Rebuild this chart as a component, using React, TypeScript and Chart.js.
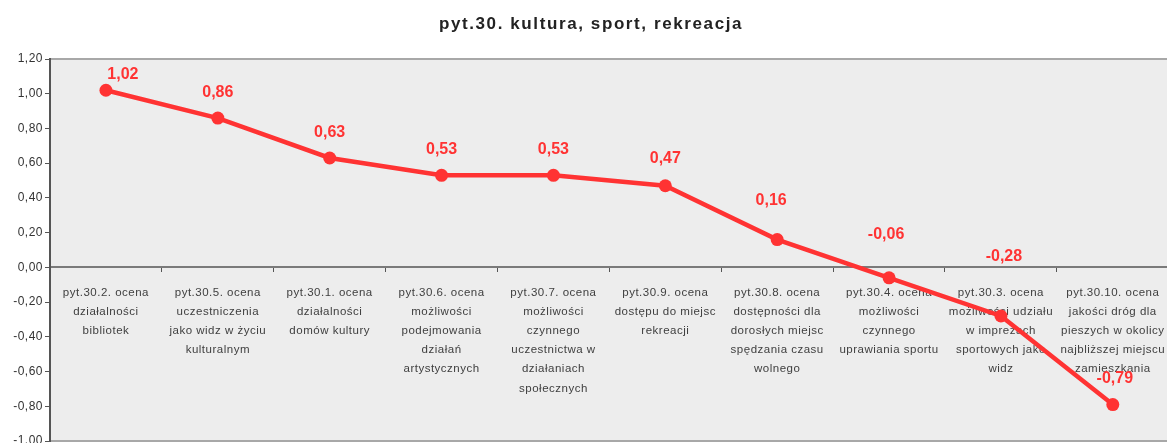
import React, { useEffect, useRef } from "react";
import { Chart, registerables } from "chart.js";

Chart.register(...registerables);

const TITLE = "pyt.30. kultura, sport, rekreacja";

const categories: string[][] = [
  ["pyt.30.2. ocena", "działalności", "bibliotek"],
  ["pyt.30.5. ocena", "uczestniczenia", "jako widz w życiu", "kulturalnym"],
  ["pyt.30.1. ocena", "działalności", "domów kultury"],
  ["pyt.30.6. ocena", "możliwości", "podejmowania", "działań", "artystycznych"],
  ["pyt.30.7. ocena", "możliwości", "czynnego", "uczestnictwa w", "działaniach", "społecznych"],
  ["pyt.30.9. ocena", "dostępu do miejsc", "rekreacji"],
  ["pyt.30.8. ocena", "dostępności dla", "dorosłych miejsc", "spędzania czasu", "wolnego"],
  ["pyt.30.4. ocena", "możliwości", "czynnego", "uprawiania sportu"],
  ["pyt.30.3. ocena", "możliwości udziału", "w imprezach", "sportowych jako", "widz"],
  ["pyt.30.10. ocena", "jakości dróg dla", "pieszych w okolicy", "najbliższej miejscu", "zamieszkania"],
];

const values: number[] = [1.02, 0.86, 0.63, 0.53, 0.53, 0.47, 0.16, -0.06, -0.28, -0.79];

const yMin = -1.0;
const yMax = 1.2;
const yStep = 0.2;

// label placement (style only): pixel offsets of each value label from its point
const LABEL_DX = [17, 0, 0, 0, 0, 0, -6, -3, 3, 2];
const LABEL_DY = [-16, -25, -25, -26, -26, -27, -39, -43, -59, -26];

const RED = "#FF3333";
const FONT = "'Liberation Sans', Arial, sans-serif";
const AXIS_SPACING = "0.5px";

const fmt = (v: number) => v.toFixed(2).replace(".", ",");

const decorPlugin = {
  id: "decor",
  beforeUpdate(chart: any) {
    chart.ctx.letterSpacing = AXIS_SPACING;
  },
  beforeDraw(chart: any) {
    const { ctx, chartArea: a } = chart;
    ctx.letterSpacing = AXIS_SPACING;
    ctx.save();
    ctx.fillStyle = "#EDEDED";
    ctx.fillRect(a.left, a.top, a.right - a.left, a.bottom - a.top);
    ctx.strokeStyle = "#A8A8A8";
    ctx.lineWidth = 2;
    ctx.beginPath();
    ctx.moveTo(a.left, a.top);
    ctx.lineTo(a.right, a.top);
    ctx.moveTo(a.left, a.bottom);
    ctx.lineTo(a.right, a.bottom);
    ctx.stroke();
    ctx.fillStyle = "#222";
    ctx.font = `bold 17px ${FONT}`;
    ctx.letterSpacing = "1.6px";
    ctx.textAlign = "center";
    ctx.textBaseline = "alphabetic";
    ctx.fillText(TITLE, 591, 29);
    ctx.restore();
  },
  afterDatasetsDraw(chart: any) {
    const { ctx } = chart;
    const meta = chart.getDatasetMeta(0);
    ctx.save();
    ctx.letterSpacing = "0px";
    ctx.fillStyle = RED;
    ctx.font = `bold 16px ${FONT}`;
    ctx.textAlign = "center";
    ctx.textBaseline = "middle";
    meta.data.forEach((pt: any, i: number) => {
      ctx.fillText(fmt(values[i]), pt.x + LABEL_DX[i], pt.y + LABEL_DY[i]);
    });
    ctx.restore();
  },
};

export default function App() {
  const ref = useRef<HTMLCanvasElement | null>(null);

  useEffect(() => {
    document.body.style.margin = "0";
    if (!ref.current) return;
    const chart = new Chart(ref.current, {
      type: "line",
      data: {
        labels: categories,
        datasets: [
          {
            data: values,
            borderColor: RED,
            backgroundColor: RED,
            borderWidth: 4.5,
            pointRadius: 6.5,
            pointHoverRadius: 6.5,
            pointBackgroundColor: RED,
            pointBorderWidth: 0,
            tension: 0,
          },
        ],
      },
      options: {
        animation: false,
        responsive: true,
        maintainAspectRatio: false,
        layout: { padding: { top: 59, bottom: 11, left: 0, right: 0 } },
        plugins: {
          legend: { display: false },
          title: { display: false },
          tooltip: { enabled: false },
        },
        scales: {
          x: {
            type: "category",
            position: { y: 0 } as any,
            offset: true,
            grid: {
              offset: true,
              drawOnChartArea: false,
              drawTicks: true,
              tickLength: 4,
              color: "#555",
            },
            border: { display: true, color: "#7a7a7a", width: 2 },
            ticks: {
              autoSkip: false,
              maxRotation: 0,
              minRotation: 0,
              padding: 11.5,
              color: "#404040",
              font: { family: FONT, size: 11.5, lineHeight: 1.67 },
            },
          },
          y: {
            min: yMin,
            max: yMax,
            afterFit(scale: any) {
              scale.width = 50;
            },
            grid: {
              drawOnChartArea: false,
              drawTicks: true,
              tickLength: 5,
              color: "#555",
            },
            border: { display: true, color: "#555", width: 2 },
            ticks: {
              stepSize: yStep,
              padding: 2,
              color: "#333",
              font: { family: FONT, size: 12 },
              callback: (v: any) => fmt(Number(v)),
            },
          },
        },
      },
      plugins: [decorPlugin],
    });
    return () => chart.destroy();
  }, []);

  return (
    <div style={{ width: 1167, height: 443, overflow: "hidden", position: "relative" }}>
      <div style={{ width: 1177, height: 452, position: "absolute", left: 0, top: 0 }}>
        <canvas ref={ref} />
      </div>
    </div>
  );
}
